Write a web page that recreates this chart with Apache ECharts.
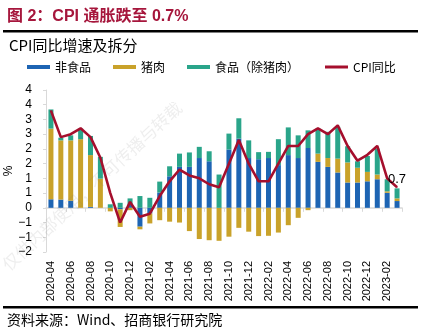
<!DOCTYPE html>
<html>
<head>
<meta charset="utf-8">
<script src="https://cdn.jsdelivr.net/npm/echarts@6/dist/echarts.min.js"></script>
<style>
html,body{margin:0;padding:0;background:#fff;}
#chart{width:436px;height:333px;}
</style>
</head>
<body>
<div id="chart"></div>
<script>
var categories = ['2020-04','2020-05','2020-06','2020-07','2020-08','2020-09','2020-10','2020-11','2020-12',
  '2021-01','2021-02','2021-03','2021-04','2021-05','2021-06','2021-07','2021-08','2021-09','2021-10','2021-11','2021-12',
  '2022-01','2022-02','2022-03','2022-04','2022-05','2022-06','2022-07','2022-08','2022-09','2022-10','2022-11','2022-12',
  '2023-01','2023-02','2023-03'];
var nonFood = [0.29,0.28,0.24,0,0.03,0,0,-0.05,0.1,-0.64,-0.19,0.52,1.07,1.39,1.39,1.69,1.58,0,1.98,2.35,1.69,
  1.65,1.69,1.45,1.79,1.69,2.03,1.56,1.39,1.2,0.86,0.86,0.9,0.97,0.51,0.23];
var pork = [2.4,2.01,2.05,2.33,1.76,0.99,-0.12,-0.6,-0.08,-0.09,-0.34,-0.42,-0.47,-0.5,-0.79,-1.06,-1.1,-1.12,-0.98,-0.68,-0.81,
  -0.96,-0.95,-0.84,-0.59,-0.34,-0.08,0.28,0.3,0.47,0.68,0.5,0.32,0.16,0.05,0.09];
var foodExPork = [0.65,0.09,0.17,0.36,0.65,0.74,0.12,0.17,0.22,0.4,0.34,0.37,0.34,0.45,0.49,0.38,0.34,1.13,0.54,0.69,0.6,
  0.24,0.21,0.88,0.94,0.77,0.6,0.85,0.89,1.08,0.55,0.22,0.54,0.88,0.41,0.34];
var cpi = [3.3,2.4,2.5,2.7,2.4,1.7,0.5,-0.5,0.2,-0.3,-0.2,0.4,0.9,1.3,1.1,1.0,0.8,0.7,1.5,2.3,1.5,
  0.9,0.9,1.5,2.1,2.1,2.5,2.7,2.5,2.8,2.1,1.6,1.8,2.1,1.0,0.7];
var yMin = -1.5, yMax = 4, yStep = 0.5;

var C_BLUE = '#1D64B3', C_GOLD = '#C9A22A', C_TEAL = '#2AA58A', C_RED = '#A50F2D';
var FONT_LATIN = 'Liberation Sans, Arial, Noto Sans CJK SC, sans-serif';
var FONT_CJK = 'Noto Sans CJK SC, sans-serif';

var chart = echarts.init(document.getElementById('chart'), null, {renderer: 'canvas'});
var lastIdx = cpi.length - 1;

function legendItem(name, left, icon, h) {
  return {
    data: [{name: name, icon: icon}],
    left: left, top: 61, padding: 0,
    itemWidth: 23, itemHeight: h,
    textStyle: {fontSize: 12, color: '#000', fontFamily: FONT_CJK},
    selectedMode: false
  };
}

var option = {
  animation: false,
  backgroundColor: '#fff',
  title: [
    {text: '图 2：CPI 通胀跌至 0.7%', left: 7, top: 9, padding: 0,
      textStyle: {fontSize: 16, fontWeight: 'bold', color: '#A6163C', fontFamily: FONT_LATIN}},
    {text: 'CPI同比增速及拆分', left: 9, top: 38, padding: 0,
      textStyle: {fontSize: 15, fontWeight: 'normal', color: '#000', fontFamily: FONT_CJK}},
    {text: '资料来源：Wind、招商银行研究院', left: 7, top: 313, padding: 0,
      textStyle: {fontSize: 14, fontWeight: 'normal', color: '#000', fontFamily: FONT_CJK}}
  ],
  legend: [
    legendItem('非食品', 27, 'rect', 4),
    legendItem('猪肉', 113, 'rect', 4),
    legendItem('食品（除猪肉）', 187, 'rect', 4),
    legendItem('CPI同比', 325, 'rect', 3)
  ],
  graphic: [
    {type: 'rect', shape: {x: 3, y: 30, width: 415, height: 2.5}, style: {fill: '#000'}},
    {type: 'rect', shape: {x: 3, y: 306, width: 415, height: 2.5}, style: {fill: '#000'}},
    {type: 'text', x: 92, y: 186, rotation: 0.75, z: 100, silent: true,
      style: {text: '仅供内部使用，不可传播与转载', fontSize: 17, fill: 'rgba(120,120,120,0.13)',
        fontFamily: FONT_CJK, align: 'center', verticalAlign: 'middle'}}
  ],
  grid: {left: 46, right: 34, top: 90, bottom: 81, containLabel: false, outerBoundsMode: 'none'},
  xAxis: [
    {type: 'category', data: categories, position: 'bottom',
      axisLine: {show: false, onZero: false}, axisTick: {show: false},
      axisLabel: {interval: 1, rotate: 90, margin: 9, fontSize: 11, color: '#000', fontFamily: FONT_LATIN}},
    {type: 'category', data: categories, position: 'top',
      axisLine: {show: true, onZero: true, lineStyle: {color: '#d9d9d9', width: 1.5}},
      axisTick: {show: true, interval: 1, inside: true, length: 4, lineStyle: {color: '#d9d9d9'}},
      axisLabel: {show: false}}
  ],
  yAxis: {
    type: 'value', min: yMin, max: yMax, interval: yStep,
    name: '%', nameLocation: 'middle', nameGap: 31, nameRotate: 90, nameMoveOverlap: false,
    nameTextStyle: {fontSize: 12, color: '#000', fontFamily: FONT_LATIN},
    axisLine: {show: true, lineStyle: {color: '#d9d9d9'}},
    axisTick: {show: true, length: 3, lineStyle: {color: '#d9d9d9'}},
    splitLine: {show: false},
    axisLabel: {margin: 14, fontSize: 12, color: '#000', fontFamily: FONT_LATIN,
      formatter: function (v) {
        var r = Math.sign(v) * Math.round(Math.abs(v));
        return r < 0 ? '\u2212' + Math.abs(r) : String(r);
      }}
  },
  series: [
    {name: '非食品', type: 'bar', stack: 'cpi', data: nonFood, barWidth: 5, itemStyle: {color: C_BLUE}},
    {name: '猪肉', type: 'bar', stack: 'cpi', data: pork, barWidth: 5, itemStyle: {color: C_GOLD}},
    {name: '食品（除猪肉）', type: 'bar', stack: 'cpi', data: foodExPork, barWidth: 5, itemStyle: {color: C_TEAL}},
    {name: 'CPI同比', type: 'line', data: cpi, symbol: 'circle', symbolSize: 1, showSymbol: true, z: 5,
      lineStyle: {color: C_RED, width: 2.6}, itemStyle: {color: C_RED},
      label: {show: true, position: 'top', distance: 1, fontSize: 13, color: '#000', fontFamily: FONT_LATIN,
        formatter: function (p) { return p.dataIndex === lastIdx ? p.value.toFixed(1) : ''; }},
      labelLayout: {hideOverlap: false}}
  ]
};
chart.setOption(option);
</script>
</body>
</html>
